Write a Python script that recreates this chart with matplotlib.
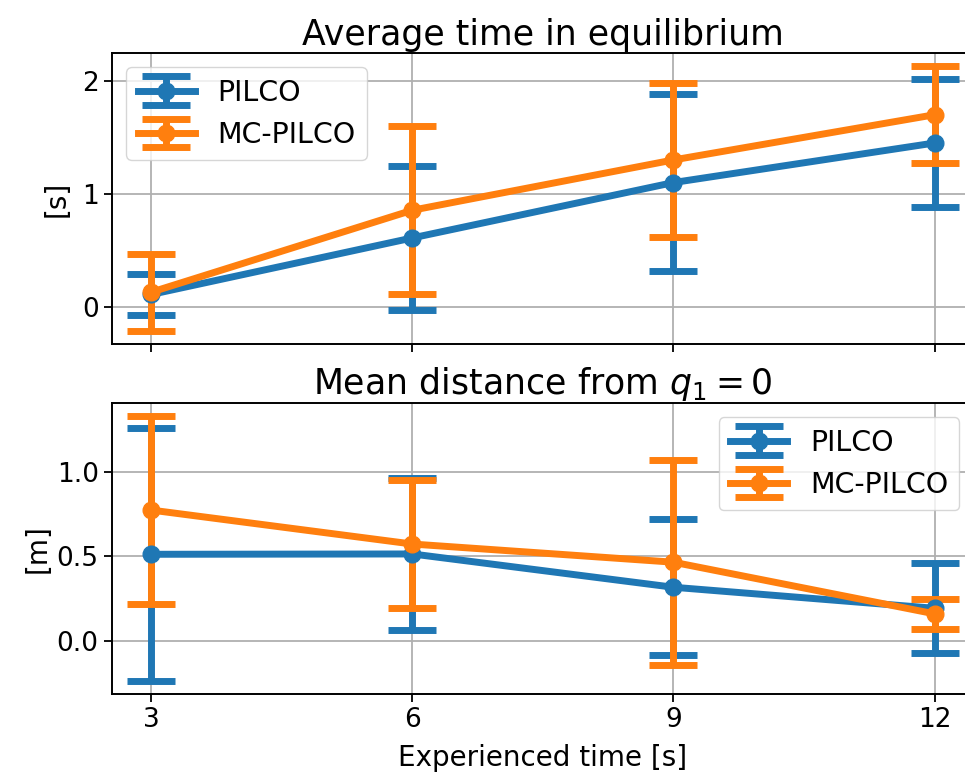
import matplotlib
matplotlib.use("Agg")
import matplotlib.pyplot as plt
from matplotlib.ticker import MultipleLocator

# experienced time [s]
exp_time = [3, 6, 9, 12]

# average time in equilibrium [s]
eq_pilco_mean = [0.11, 0.61, 1.10, 1.45]
eq_pilco_std = [0.18, 0.64, 0.78, 0.57]
eq_mc_mean = [0.13, 0.855, 1.30, 1.70]
eq_mc_std = [0.34, 0.745, 0.68, 0.43]

# mean distance from q1 = 0 [m]
dist_pilco_mean = [0.513, 0.515, 0.317, 0.192]
dist_pilco_std = [0.752, 0.45, 0.403, 0.267]
dist_mc_mean = [0.776, 0.574, 0.466, 0.159]
dist_mc_std = [0.558, 0.38, 0.61, 0.089]

err_kw = dict(fmt='-o', linewidth=5, markersize=12, elinewidth=5,
              capsize=17, capthick=5)

fig = plt.figure(figsize=(9.65, 7.78), dpi=100)
# axes run a little past the right edge of the figure, as in the original
ax1 = fig.add_axes([0.116, 0.558, 0.893, 0.374])
ax2 = fig.add_axes([0.116, 0.108, 0.893, 0.374], sharex=ax1)

ax1.errorbar(exp_time, eq_pilco_mean, yerr=eq_pilco_std, color='tab:blue',
             label='PILCO', **err_kw)
ax1.errorbar(exp_time, eq_mc_mean, yerr=eq_mc_std, color='tab:orange',
             label='MC-PILCO', **err_kw)
ax1.set_title('Average time in equilibrium', fontsize=25)
ax1.set_ylabel('[s]', fontsize=20, labelpad=8)
ax1.legend(loc='upper left', fontsize=20.5)
ax1.yaxis.set_major_locator(MultipleLocator(1))
plt.setp(ax1.get_xticklabels(), visible=False)

ax2.errorbar(exp_time, dist_pilco_mean, yerr=dist_pilco_std, color='tab:blue',
             label='PILCO', **err_kw)
ax2.errorbar(exp_time, dist_mc_mean, yerr=dist_mc_std, color='tab:orange',
             label='MC-PILCO', **err_kw)
ax2.set_title('Mean distance from $q_1 = 0$', fontsize=25)
ax2.set_ylabel('[m]', fontsize=20)
ax2.set_xlabel('Experienced time [s]', fontsize=20, labelpad=8)
ax2.legend(loc='upper right', fontsize=20.5)
ax2.set_xticks(exp_time)

for ax in (ax1, ax2):
    ax.grid(True, color='#b0b0b0', linewidth=1.3)
    ax.tick_params(labelsize=19, length=6, width=1.3)
    for s in ax.spines.values():
        s.set_linewidth(1.4)
    ax.spines['right'].set_visible(False)

fig.savefig('out.png', dpi=100)
